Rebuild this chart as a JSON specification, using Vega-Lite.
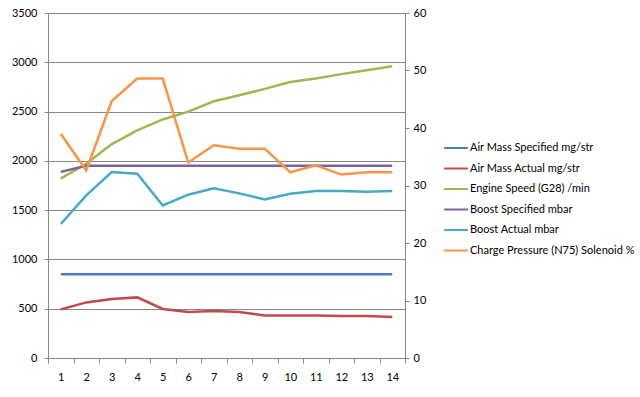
{
  "$schema": "https://vega.github.io/schema/vega-lite/v6.json",
  "width": 357,
  "height": 345,
  "autosize": "none",
  "padding": {"left": 48, "top": 13, "right": 235, "bottom": 39},
  "background": "white",
  "config": {
    "font": "Lato",
    "view": {"stroke": null},
    "axis": {"labelFont": "Lato", "labelFontSize": 11, "labelColor": "#000000", "domainColor": "#868686", "tickColor": "#868686", "gridColor": "#868686", "titleFontSize": 0},
    "legend": {"labelFont": "Lato", "labelFontSize": 11, "labelColor": "#000000", "padding": 0, "labelLimit": 0}
  },
  "datasets": {
    "main": [
      {"i": 1, "s": "Air Mass Specified  mg/str", "v": 850},
      {"i": 2, "s": "Air Mass Specified  mg/str", "v": 850},
      {"i": 3, "s": "Air Mass Specified  mg/str", "v": 850},
      {"i": 4, "s": "Air Mass Specified  mg/str", "v": 850},
      {"i": 5, "s": "Air Mass Specified  mg/str", "v": 850},
      {"i": 6, "s": "Air Mass Specified  mg/str", "v": 850},
      {"i": 7, "s": "Air Mass Specified  mg/str", "v": 850},
      {"i": 8, "s": "Air Mass Specified  mg/str", "v": 850},
      {"i": 9, "s": "Air Mass Specified  mg/str", "v": 850},
      {"i": 10, "s": "Air Mass Specified  mg/str", "v": 850},
      {"i": 11, "s": "Air Mass Specified  mg/str", "v": 850},
      {"i": 12, "s": "Air Mass Specified  mg/str", "v": 850},
      {"i": 13, "s": "Air Mass Specified  mg/str", "v": 850},
      {"i": 14, "s": "Air Mass Specified  mg/str", "v": 850},
      {"i": 1, "s": "Air Mass Actual  mg/str", "v": 493},
      {"i": 2, "s": "Air Mass Actual  mg/str", "v": 564},
      {"i": 3, "s": "Air Mass Actual  mg/str", "v": 599},
      {"i": 4, "s": "Air Mass Actual  mg/str", "v": 615},
      {"i": 5, "s": "Air Mass Actual  mg/str", "v": 497},
      {"i": 6, "s": "Air Mass Actual  mg/str", "v": 467},
      {"i": 7, "s": "Air Mass Actual  mg/str", "v": 477},
      {"i": 8, "s": "Air Mass Actual  mg/str", "v": 467},
      {"i": 9, "s": "Air Mass Actual  mg/str", "v": 432},
      {"i": 10, "s": "Air Mass Actual  mg/str", "v": 432},
      {"i": 11, "s": "Air Mass Actual  mg/str", "v": 432},
      {"i": 12, "s": "Air Mass Actual  mg/str", "v": 425},
      {"i": 13, "s": "Air Mass Actual  mg/str", "v": 425},
      {"i": 14, "s": "Air Mass Actual  mg/str", "v": 416},
      {"i": 1, "s": "Engine Speed (G28)  /min", "v": 1820},
      {"i": 2, "s": "Engine Speed (G28)  /min", "v": 1970},
      {"i": 3, "s": "Engine Speed (G28)  /min", "v": 2170},
      {"i": 4, "s": "Engine Speed (G28)  /min", "v": 2310},
      {"i": 5, "s": "Engine Speed (G28)  /min", "v": 2420},
      {"i": 6, "s": "Engine Speed (G28)  /min", "v": 2500},
      {"i": 7, "s": "Engine Speed (G28)  /min", "v": 2605},
      {"i": 8, "s": "Engine Speed (G28)  /min", "v": 2665},
      {"i": 9, "s": "Engine Speed (G28)  /min", "v": 2730},
      {"i": 10, "s": "Engine Speed (G28)  /min", "v": 2800},
      {"i": 11, "s": "Engine Speed (G28)  /min", "v": 2835},
      {"i": 12, "s": "Engine Speed (G28)  /min", "v": 2880},
      {"i": 13, "s": "Engine Speed (G28)  /min", "v": 2920},
      {"i": 14, "s": "Engine Speed (G28)  /min", "v": 2960},
      {"i": 1, "s": "Boost Specified  mbar", "v": 1888},
      {"i": 2, "s": "Boost Specified  mbar", "v": 1950},
      {"i": 3, "s": "Boost Specified  mbar", "v": 1950},
      {"i": 4, "s": "Boost Specified  mbar", "v": 1950},
      {"i": 5, "s": "Boost Specified  mbar", "v": 1950},
      {"i": 6, "s": "Boost Specified  mbar", "v": 1950},
      {"i": 7, "s": "Boost Specified  mbar", "v": 1950},
      {"i": 8, "s": "Boost Specified  mbar", "v": 1950},
      {"i": 9, "s": "Boost Specified  mbar", "v": 1950},
      {"i": 10, "s": "Boost Specified  mbar", "v": 1950},
      {"i": 11, "s": "Boost Specified  mbar", "v": 1950},
      {"i": 12, "s": "Boost Specified  mbar", "v": 1950},
      {"i": 13, "s": "Boost Specified  mbar", "v": 1950},
      {"i": 14, "s": "Boost Specified  mbar", "v": 1950},
      {"i": 1, "s": "Boost Actual  mbar", "v": 1359},
      {"i": 2, "s": "Boost Actual  mbar", "v": 1650},
      {"i": 3, "s": "Boost Actual  mbar", "v": 1887},
      {"i": 4, "s": "Boost Actual  mbar", "v": 1870},
      {"i": 5, "s": "Boost Actual  mbar", "v": 1548},
      {"i": 6, "s": "Boost Actual  mbar", "v": 1657},
      {"i": 7, "s": "Boost Actual  mbar", "v": 1721},
      {"i": 8, "s": "Boost Actual  mbar", "v": 1670},
      {"i": 9, "s": "Boost Actual  mbar", "v": 1609},
      {"i": 10, "s": "Boost Actual  mbar", "v": 1667},
      {"i": 11, "s": "Boost Actual  mbar", "v": 1694},
      {"i": 12, "s": "Boost Actual  mbar", "v": 1694},
      {"i": 13, "s": "Boost Actual  mbar", "v": 1686},
      {"i": 14, "s": "Boost Actual  mbar", "v": 1694}
    ],
    "n75": [
      {"i": 1, "s": "Charge Pressure (N75) Solenoid  %", "v": 39.0},
      {"i": 2, "s": "Charge Pressure (N75) Solenoid  %", "v": 32.6},
      {"i": 3, "s": "Charge Pressure (N75) Solenoid  %", "v": 44.7},
      {"i": 4, "s": "Charge Pressure (N75) Solenoid  %", "v": 48.6},
      {"i": 5, "s": "Charge Pressure (N75) Solenoid  %", "v": 48.6},
      {"i": 6, "s": "Charge Pressure (N75) Solenoid  %", "v": 34.0},
      {"i": 7, "s": "Charge Pressure (N75) Solenoid  %", "v": 37.0},
      {"i": 8, "s": "Charge Pressure (N75) Solenoid  %", "v": 36.4},
      {"i": 9, "s": "Charge Pressure (N75) Solenoid  %", "v": 36.4},
      {"i": 10, "s": "Charge Pressure (N75) Solenoid  %", "v": 32.3},
      {"i": 11, "s": "Charge Pressure (N75) Solenoid  %", "v": 33.5},
      {"i": 12, "s": "Charge Pressure (N75) Solenoid  %", "v": 31.9},
      {"i": 13, "s": "Charge Pressure (N75) Solenoid  %", "v": 32.3},
      {"i": 14, "s": "Charge Pressure (N75) Solenoid  %", "v": 32.3}
    ]
  },
  "encoding": {
    "x": {
      "field": "i", "type": "ordinal", "bandPosition": 0.5,
      "scale": {"type": "band", "paddingInner": 0, "paddingOuter": 0},
      "axis": {"title": null, "labelAngle": 0, "tickBand": "extent", "tickSize": 5, "labelPadding": 8, "domainColor": "#868686"}
    },
    "color": {
      "field": "s", "type": "nominal",
      "scale": {
        "domain": ["Air Mass Specified  mg/str", "Air Mass Actual  mg/str", "Engine Speed (G28)  /min", "Boost Specified  mbar", "Boost Actual  mbar", "Charge Pressure (N75) Solenoid  %"],
        "range": ["#4A7EBB", "#BE4B48", "#98B954", "#7D60A0", "#46AAC5", "#F79646"]
      },
      "legend": {"title": null, "orient": "none", "legendX": 395, "legendY": 122, "symbolType": "stroke", "symbolSize": 560, "symbolStrokeWidth": 2, "rowPadding": 2.5, "labelOffset": 1}
    }
  },
  "layer": [
    {
      "data": {"name": "main"},
      "mark": {"type": "line", "strokeWidth": 2.5},
      "encoding": {
        "y": {"field": "v", "type": "quantitative", "scale": {"domain": [0, 3500]},
          "axis": {"title": null, "format": "d", "values": [0, 500, 1000, 1500, 2000, 2500, 3000, 3500], "grid": true, "tickSize": 4, "labelPadding": 7, "orient": "left"}}
      }
    },
    {
      "data": {"name": "n75"},
      "mark": {"type": "line", "strokeWidth": 2.5},
      "encoding": {
        "y": {"field": "v", "type": "quantitative", "scale": {"domain": [0, 60]},
          "axis": {"title": null, "format": "d", "values": [0, 10, 20, 30, 40, 50, 60], "grid": false, "tickSize": 4, "labelPadding": 4, "orient": "right"}}
      }
    }
  ],
  "resolve": {"scale": {"y": "independent"}}
}
